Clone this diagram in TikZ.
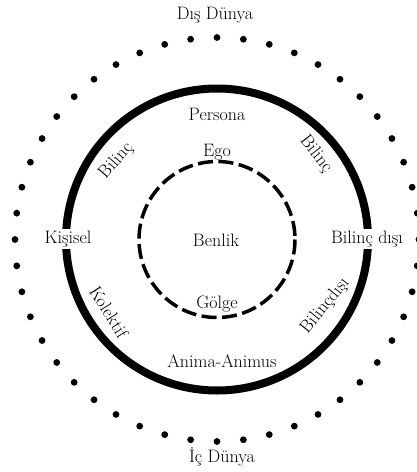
\documentclass[tikz,border=0pt]{standalone}
\usepackage{tikz}
\usetikzlibrary{calc}

\begin{document}
\begin{tikzpicture}[
  x=1pt, y=-1pt,
  every node/.style={font=\fontsize{18}{20}\selectfont, inner sep=1pt},
  psyche/.style={line width=8pt},
  self/.style={line width=3.5pt, dash pattern=on 15pt off 5.5pt},
  worlddot/.style={fill=black},
  gap/.style={fill=white, inner sep=1.5pt},
]
\useasboundingbox (0,0) rectangle (417,472);
\coordinate (c) at (217,239.5);

% --- outer world: ring of dots
\foreach \a in {0,7.5,...,352.5}
  \fill[worlddot] ($(c)+(90+\a:202)$) circle (3.4);
\node (dis) at (215,15) {Dış Dünya};
\node (ic) at (222,457) {İç Dünya};

% --- psyche: thick ring
\draw[psyche] (c) circle (151);
\node[gap] (kisisel) at (68,239) {Kişisel};
\node[gap] (bilincdisi) at (367,239) {Bilinç dışı};
\node (persona) at (217,114) {Persona};
\node (anima) at (222,361) {Anima-Animus};
\node[rotate=49] (bilincL) at (116,161) {Bilinç};
\node[rotate=-52] (bilincR) at (316,154) {Bilinç};
\node[rotate=-58] (kolektif) at (109,312) {Kolektif};
\node[rotate=51] (bilincdisiR) at (325,306) {Bilinçdışı};

% --- self: dashed inner ring
\draw[self] (c) circle (78);
\node (ego) at (217,152) {Ego};
\node (benlik) at (216,240) {Benlik};
\node (golge) at (217,304) {Gölge};
\end{tikzpicture}
\end{document}
